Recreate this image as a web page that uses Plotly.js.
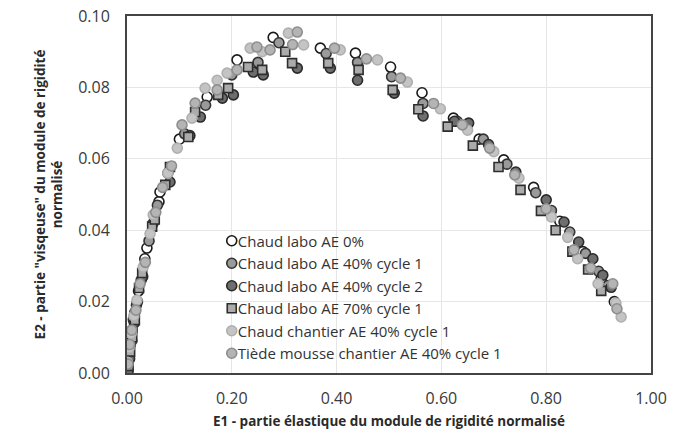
<!DOCTYPE html>
<html>
<head>
<meta charset="utf-8">
<script src="https://cdn.plot.ly/plotly-3.0.1.min.js"></script>
<style>html,body{margin:0;padding:0;background:#fff;}#chart{width:673px;height:434px;}</style>
</head>
<body>
<div id="chart"></div>
<script>
// Series names
const seriesNames = [
  "Chaud labo AE 0%",
  "Chaud labo AE 40% cycle 1",
  "Chaud labo AE 40% cycle 2",
  "Chaud labo AE 70% cycle 1",
  "Chaud chantier AE 40% cycle 1",
  "Tiède mousse chantier AE 40% cycle 1"
];

// Chaud labo AE 0%
const e1_labo0 = [0.001,0.003,0.006,0.010,0.015,0.022,0.034,0.038,0.061,0.063,0.100,0.153,0.210,0.279,0.369,0.436,0.503,0.563,0.623,0.672,0.719,0.776,0.826,0.870,0.905,0.930];
const e2_labo0 = [0.001,0.004,0.008,0.012,0.017,0.023,0.032,0.035,0.048,0.0507,0.0655,0.0773,0.0877,0.094,0.091,0.0896,0.0857,0.0785,0.0714,0.0655,0.0597,0.052,0.0425,0.034,0.0265,0.020];

// Chaud labo AE 40% cycle 1
const e1_labo40c1 = [0.001,0.004,0.008,0.012,0.018,0.027,0.042,0.058,0.078,0.110,0.150,0.200,0.250,0.290,0.380,0.440,0.505,0.565,0.630,0.680,0.725,0.780,0.810,0.845,0.875,0.900,0.918];
const e2_labo40c1 = [0.002,0.005,0.010,0.015,0.019,0.026,0.037,0.047,0.056,0.067,0.075,0.0835,0.087,0.0925,0.0895,0.087,0.083,0.0755,0.0705,0.0655,0.0585,0.0505,0.0455,0.0395,0.0335,0.0285,0.0245];

// Chaud labo AE 40% cycle 2
const e1_labo40c2 = [0.002,0.005,0.009,0.014,0.020,0.030,0.050,0.082,0.120,0.140,0.182,0.203,0.241,0.260,0.325,0.388,0.440,0.510,0.565,0.625,0.652,0.690,0.742,0.800,0.834,0.862,0.889,0.908,0.924];
const e2_labo40c2 = [0.0005,0.004,0.009,0.014,0.020,0.027,0.042,0.0535,0.0665,0.0717,0.077,0.0779,0.0843,0.0835,0.0854,0.0854,0.082,0.0784,0.072,0.0705,0.070,0.064,0.0563,0.0485,0.0423,0.0367,0.032,0.0274,0.024];

// Chaud labo AE 70% cycle 1
const e1_labo70 = [0.003,0.006,0.010,0.015,0.023,0.029,0.048,0.053,0.073,0.082,0.117,0.130,0.174,0.193,0.231,0.258,0.302,0.315,0.384,0.442,0.507,0.556,0.612,0.660,0.709,0.751,0.790,0.818,0.850,0.880,0.905];
const e2_labo70 = [0.002,0.006,0.010,0.0148,0.0238,0.028,0.041,0.043,0.0527,0.0577,0.0661,0.0731,0.0779,0.0798,0.0857,0.0849,0.090,0.0868,0.0868,0.0849,0.0793,0.0739,0.069,0.0637,0.0577,0.0513,0.0454,0.040,0.034,0.029,0.023];

// Chaud chantier AE 40% cycle 1
const e1_chantier = [0.001,0.004,0.008,0.013,0.019,0.031,0.044,0.050,0.078,0.096,0.124,0.149,0.172,0.191,0.235,0.258,0.308,0.337,0.407,0.478,0.535,0.598,0.650,0.700,0.748,0.810,0.841,0.860,0.899,0.933,0.943];
const e2_chantier = [0.003,0.007,0.011,0.016,0.0204,0.0297,0.039,0.0443,0.056,0.063,0.0714,0.0798,0.082,0.084,0.091,0.090,0.0952,0.0919,0.0905,0.0877,0.0815,0.074,0.068,0.062,0.0546,0.0437,0.038,0.032,0.025,0.0196,0.0157];

// Tiède mousse chantier AE 40% cycle 1
const e1_tiede = [0.002,0.005,0.009,0.017,0.025,0.035,0.055,0.068,0.085,0.105,0.130,0.172,0.210,0.248,0.273,0.325,0.316,0.396,0.457,0.522,0.585,0.640,0.692,0.740,0.800,0.853,0.885,0.927,0.935];
const e2_tiede = [0.0025,0.008,0.012,0.0176,0.025,0.031,0.045,0.052,0.058,0.0695,0.0756,0.0793,0.0849,0.0913,0.0905,0.0955,0.092,0.091,0.088,0.0826,0.0755,0.0695,0.063,0.0555,0.046,0.0345,0.0294,0.025,0.018];

// Axis ticks
const xTicks = [0, 0.2, 0.4, 0.6, 0.8, 1.0];
const yTicks = [0, 0.02, 0.04, 0.06, 0.08, 0.10];

const styles = [
  {symbol:'circle', color:'#ffffff', line:'#1a1a1a'},
  {symbol:'circle', color:'#9a9a9a', line:'#333333'},
  {symbol:'circle', color:'#6e6e6e', line:'#2a2a2a'},
  {symbol:'square', color:'#ababab', line:'#2e2e2e'},
  {symbol:'circle', color:'#c4c4c4', line:'#b0b0b0'},
  {symbol:'circle', color:'#b4b4b4', line:'#8e8e8e'}
];
const xs = [e1_labo0, e1_labo40c1, e1_labo40c2, e1_labo70, e1_chantier, e1_tiede];
const ys = [e2_labo0, e2_labo40c1, e2_labo40c2, e2_labo70, e2_chantier, e2_tiede];

const traces = seriesNames.map((n, i) => ({
  type: 'scatter', mode: 'markers', name: n,
  x: xs[i], y: ys[i],
  marker: {symbol: styles[i].symbol, size: styles[i].symbol === 'square' ? 9 : 10,
           color: styles[i].color, line: {color: styles[i].line, width: 1.6}}
}));

const font = "'Open Sans', Lato, sans-serif";
const layout = {
  width: 673, height: 434,
  margin: {l: 127, r: 22, t: 16, b: 61},
  paper_bgcolor: '#ffffff', plot_bgcolor: '#ffffff',
  font: {family: font, size: 14, color: '#3a3a3a'},
  showlegend: true,
  legend: {x: 0.135, y: 0.416, xanchor: 'left', yanchor: 'top',
           bgcolor: 'rgba(0,0,0,0)', font: {family: font, size: 15, color: '#333333'},
           tracegroupgap: 0, itemwidth: 30},
  xaxis: {range: [0, 1.0], tickvals: xTicks, tickformat: '.2f',
          showgrid: true, gridcolor: '#e6e6e6', gridwidth: 1,
          showline: true, linecolor: '#444444', linewidth: 2, mirror: true,
          zeroline: false, ticks: '', ticklabelstandoff: 10,
          tickfont: {size: 16, color: '#3a3a3a'},
          title: {text: '<b>E1 - partie élastique du module de rigidité normalisé</b>',
                  font: {size: 13.5, color: '#2a2a2a'}, standoff: 8}},
  yaxis: {range: [0, 0.10], tickvals: yTicks, tickformat: '.2f',
          showgrid: true, gridcolor: '#e6e6e6', gridwidth: 1,
          showline: true, linecolor: '#444444', linewidth: 2, mirror: true,
          zeroline: false, ticks: '', ticklabelstandoff: 12,
          tickfont: {size: 16, color: '#3a3a3a'},
          title: {text: '<b>E2 - partie "visqeuse" du module de rigidité<br>normalisé</b>',
                  font: {size: 13.5, color: '#2a2a2a'}, standoff: 12}}
};

Plotly.newPlot('chart', traces, layout, {displayModeBar: false, staticPlot: true}).then(gd => {
  // bring legend symbols closer to their labels, as in the reference
  gd.querySelectorAll('.legend .legendpoints').forEach(g => {
    g.setAttribute('transform', 'translate(14,0)');
  });
});
</script>
</body>
</html>
